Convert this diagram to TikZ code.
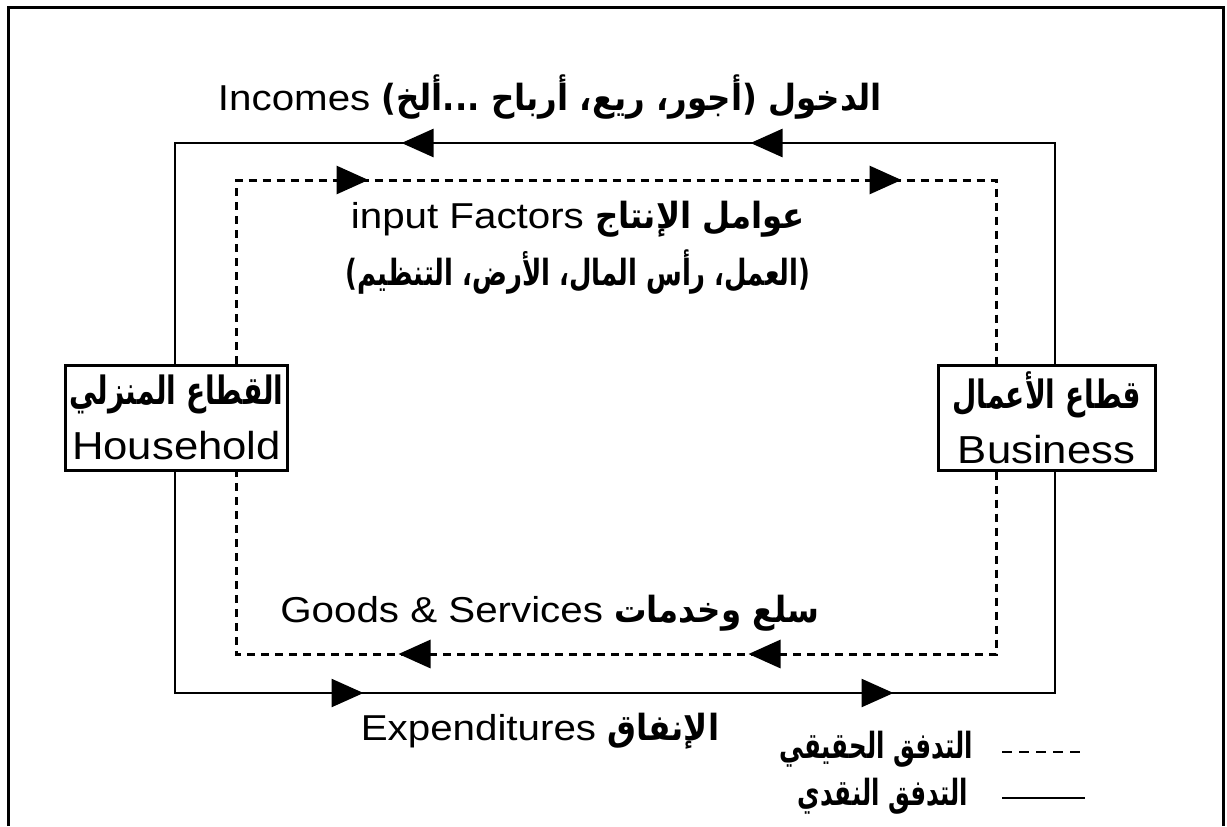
\documentclass[tikz,border=0pt]{standalone}
\usepackage{fontspec}
\setmainfont[FakeStretch=1.12]{Liberation Sans}
\newfontfamily\arabicfont[Script=Arabic, FakeStretch=0.9]{DejaVu Sans Bold}
\newfontfamily\arnarrow[Script=Arabic, FakeStretch=0.72]{DejaVu Sans Bold}
\newfontfamily\keyfont[Script=Arabic, FakeStretch=0.68]{DejaVu Sans Bold}
\TeXXeTstate=1
\usetikzlibrary{arrows.meta,decorations.markings}
\newcommand\ar[1]{{\arabicfont #1}}

\begin{document}
\begin{tikzpicture}[x=0.5pt, y=-0.5pt,
  flowtip/.tip = {Triangle[length=16pt, width=14pt]},
  twoheads/.style 2 args = {postaction={decorate}, decoration={markings,
      mark=at position #1 with {\arrow{flowtip}},
      mark=at position #2 with {\arrow{flowtip}}}},
  cash/.style = {line width=1.25pt},
  real/.style = {line width=1.5pt, dash pattern=on 4pt off 3pt},
  sector/.style = {draw, line width=1.5pt, minimum width=108.5pt, minimum height=52.5pt,
      align=center, inner sep=2pt, font=\fontsize{19.5}{27.5}\selectfont},
  keytext/.style = {anchor=base east, font=\fontsize{18}{20}\keyfont},
  every node/.style = {font=\fontsize{18}{28.5}\selectfont}]
  \useasboundingbox (0,0) rectangle (1227,826);
  % frame
  \draw[line width=1.5pt] (8,826) |- (1223,7) -- (1223,826);

  % sectors
  \node[sector] (hh) at (176.5,417.5) {{\arnarrow\beginR القطاع المنزلي\endR}\\Household};
  \node[sector] (bs) at (1046.5,417.5) {{\arnarrow\beginR قطاع الأعمال\endR}\\Business};

  \coordinate (sTL) at (175,143);  \coordinate (sTR) at (1055,143);
  \coordinate (sBL) at (175,693);  \coordinate (sBR) at (1055,693);
  \coordinate (dTL) at (236,180);  \coordinate (dTR) at (996,180);
  \coordinate (dBL) at (236,654);  \coordinate (dBR) at (996,654);

  % money flow
  \draw[cash, twoheads={262.5pt}{437pt}] (bs.north -| sTR) |- (sTL) -- (hh.north -| sTL);
  \draw[cash, twoheads={205pt}{470pt}] (hh.south -| sBL) |- (sBR) -- (bs.south -| sBR);
  % real flow
  \draw[real, twoheads={158pt}{424.5pt}] (hh.north -| dTL) |- (dTR) -- (bs.north -| dTR);
  \draw[real, twoheads={215pt}{390pt}] (bs.south -| dBR) |- (dBL) -- (hh.south -| dBL);

  % labels
  \node[anchor=base] (inc) at (550,110)
    {\beginR\ar{الدخول (أجور، ريع، أرباح ...ألخ)} \beginL Incomes\endL\endR};
  \node[anchor=base, align=center] (fac) at (578,285)
    {\beginR\ar{عوامل الإنتاج} \beginL input Factors\endL\endR\\
     {\arnarrow\beginR (العمل، رأس المال، الأرض، التنظيم)\endR}};
  \node[anchor=base] (gds) at (550,622)
    {\beginR\ar{سلع وخدمات} \beginL Goods \& Services\endL\endR};
  \node[anchor=base] (exp) at (540,740)
    {\beginR\ar{الإنفاق} \beginL Expenditures\endL\endR};

  % key
  \node[keytext] (keyreal) at (980,758) {\beginR التدفق الحقيقي\endR};
  \node[keytext] (keycash) at (975,805) {\beginR التدفق النقدي\endR};
  \coordinate (kr) at (1002,752);
  \coordinate (kc) at (1002,798);
  \draw[line width=1.25pt, dash pattern=on 5pt off 3.5pt] (kr) -- ++(83,0);
  \draw[cash] (kc) -- ++(83,0);
\end{tikzpicture}
\end{document}
